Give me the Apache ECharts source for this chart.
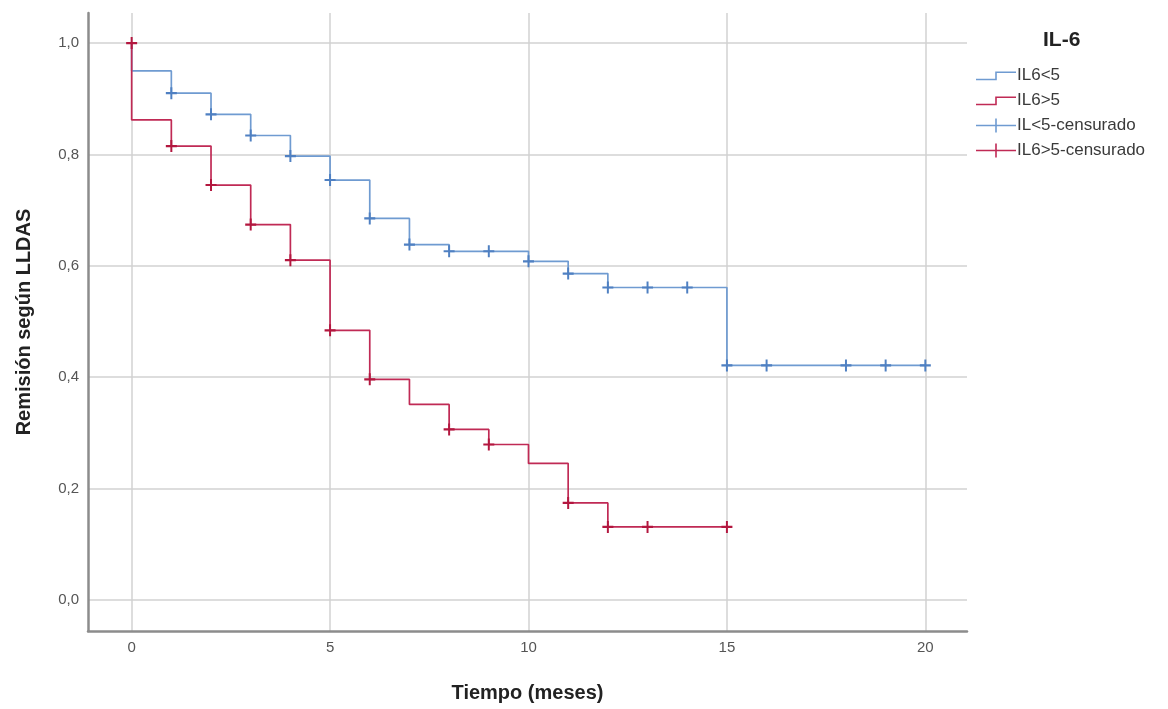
<!DOCTYPE html>
<html>
<head>
<meta charset="utf-8">
<script src="https://cdn.jsdelivr.net/npm/echarts@6/dist/echarts.min.js"></script>
<style>
  html, body { margin: 0; padding: 0; background: #fff; }
  #chart { width: 1168px; height: 709px; }
</style>
</head>
<body>
<div id="chart"></div>
<script>
// curva Kaplan-Meier IL6<5 (tiempo en meses, supervivencia)
const tiempoBajo = [0, 0, 1, 2, 3, 4, 5, 6, 7, 8, 10, 11, 12, 15, 20];
const remBajo = [1.0, 0.95, 0.91, 0.872, 0.834, 0.797, 0.754, 0.685, 0.638, 0.626, 0.608, 0.586, 0.561, 0.421, 0.421];
// curva IL6>5
const tiempoAlto = [0, 0, 1, 2, 3, 4, 5, 6, 7, 8, 9, 10, 11, 12, 15];
const remAlto = [1.0, 0.862, 0.815, 0.745, 0.674, 0.61, 0.484, 0.396, 0.351, 0.306, 0.279, 0.245, 0.174, 0.131, 0.131];
// censurados
const censBajoT = [1, 2, 3, 4, 5, 6, 7, 8, 9, 10, 11, 12, 13, 14, 15, 16, 18, 19, 20];
const censBajoS = [0.91, 0.872, 0.834, 0.797, 0.754, 0.685, 0.638, 0.626, 0.626, 0.608, 0.586, 0.561, 0.561, 0.561, 0.421, 0.421, 0.421, 0.421, 0.421];
const censAltoT = [0, 1, 2, 3, 4, 5, 6, 8, 9, 11, 12, 13, 15];
const censAltoS = [1.0, 0.815, 0.745, 0.674, 0.61, 0.484, 0.396, 0.306, 0.279, 0.174, 0.131, 0.131, 0.131];

const xTicks = [0, 5, 10, 15, 20];
const yTicks = [0, 0.2, 0.4, 0.6, 0.8, 1.0];

const pares = (xs, ys) => xs.map((x, i) => [x, ys[i]]);

const font = "'Liberation Sans', Arial, sans-serif";
const azul = '#6f9bd1';
const rojo = '#c02a55';

// iconos de leyenda
const iconoEscalon = 'path://M0,0L0,0.01Z M40,14L40,13.99Z M0,10.2L19.2,10.2L19.2,3L40,3L40,4.6L20.8,4.6L20.8,11.8L0,11.8Z';
const iconoCruz = 'path://M0,6.2L40,6.2L40,7.8L0,7.8Z M19.2,0L20.8,0L20.8,14L19.2,14Z';
const cruz = 'path://M0,4.1L10,4.1L10,5.9L0,5.9Z M4.1,0L5.9,0L5.9,10L4.1,10Z';

const chart = echarts.init(document.getElementById('chart'));
chart.setOption({
  animation: false,
  textStyle: { fontFamily: font },
  title: {
    text: 'IL-6',
    left: 1038,
    top: 25,
    textStyle: { fontFamily: font, fontSize: 21, fontWeight: 'bold', color: '#222' }
  },
  legend: {
    orient: 'vertical',
    left: 971,
    top: 62,
    itemWidth: 40,
    itemHeight: 14,
    itemGap: 8,
    itemStyle: { borderWidth: 0 },
    textStyle: { fontFamily: font, fontSize: 17, color: '#3a3a3a', padding: [0, 0, 0, -4] },
    data: [
      { name: 'IL6<5', icon: iconoEscalon, itemStyle: { color: azul } },
      { name: 'IL6>5', icon: iconoEscalon, itemStyle: { color: rojo } },
      { name: 'IL<5-censurado', icon: iconoCruz, itemStyle: { color: azul } },
      { name: 'IL6>5-censurado', icon: iconoCruz, itemStyle: { color: rojo } }
    ]
  },
  grid: { left: 88, right: 201, top: 13, bottom: 78, outerBoundsMode: 'none' },
  xAxis: {
    type: 'value',
    min: -1.1,
    max: 21.05,
    name: 'Tiempo (meses)',
    nameLocation: 'middle',
    nameGap: 52,
    nameTextStyle: { fontFamily: font, fontSize: 20, fontWeight: 'bold', color: '#222' },
    axisLine: { show: true, onZero: false, lineStyle: { color: '#8c8c8c', width: 2.5 } },
    axisTick: { show: false, customValues: xTicks },
    axisLabel: { customValues: xTicks, margin: 9, fontSize: 15, color: '#555' },
    splitLine: { show: true, lineStyle: { color: '#d2d2d2', width: 1.5 } }
  },
  yAxis: {
    type: 'value',
    min: -0.056,
    max: 1.054,
    name: 'Remisión según LLDAS',
    nameLocation: 'middle',
    nameGap: 54,
    nameTextStyle: { fontFamily: font, fontSize: 20, fontWeight: 'bold', color: '#222' },
    axisLine: { show: true, onZero: false, lineStyle: { color: '#8c8c8c', width: 2.5 } },
    axisTick: { show: false, customValues: yTicks },
    axisLabel: {
      customValues: yTicks,
      margin: 9,
      fontSize: 15,
      color: '#555',
      formatter: v => v.toFixed(1).replace('.', ',')
    },
    splitLine: { show: true, lineStyle: { color: '#d2d2d2', width: 1.5 } }
  },
  series: [
    {
      name: 'IL6<5',
      type: 'line',
      step: 'end',
      symbol: 'none',
      z: 2,
      lineStyle: { color: azul, width: 1.7 },
      itemStyle: { color: azul },
      data: pares(tiempoBajo, remBajo)
    },
    {
      name: 'IL6>5',
      type: 'line',
      step: 'end',
      symbol: 'none',
      z: 2,
      lineStyle: { color: rojo, width: 1.7 },
      itemStyle: { color: rojo },
      data: pares(tiempoAlto, remAlto)
    },
    {
      name: 'IL<5-censurado',
      type: 'scatter',
      symbol: cruz,
      symbolSize: [11, 12],
      z: 3,
      itemStyle: { color: '#4f80c2', opacity: 1 },
      data: pares(censBajoT, censBajoS)
    },
    {
      name: 'IL6>5-censurado',
      type: 'scatter',
      symbol: cruz,
      symbolSize: [11, 12],
      z: 3,
      itemStyle: { color: '#b3173f', opacity: 1 },
      data: pares(censAltoT, censAltoS)
    }
  ]
});
</script>
</body>
</html>
